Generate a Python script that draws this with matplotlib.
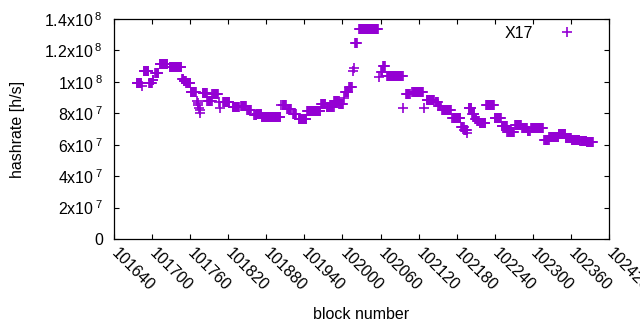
import numpy as np
import matplotlib
matplotlib.use('Agg')
import matplotlib.pyplot as plt

plt.rcParams['font.family'] = ['Liberation Sans', 'DejaVu Sans']
plt.rcParams['mathtext.fontset'] = 'custom'
plt.rcParams['mathtext.rm'] = 'Liberation Sans'
plt.rcParams['mathtext.it'] = 'Liberation Sans'
plt.rcParams['mathtext.default'] = 'regular'

# runs of blocks with the same estimated hashrate (in units of 1e6 h/s)
seg_start = [101676, 101684, 101687, 101695, 101701, 101705, 101712, 101728,
             101747, 101750, 101754, 101761, 101771, 101772, 101773, 101774,
             101775, 101776, 101780, 101787, 101795, 101806, 101807, 101812,
             101827, 101840, 101850, 101861, 101865, 101873, 101903, 101906,
             101913, 101922, 101931, 101944, 101966, 101975, 101987, 101995,
             102002, 102004, 102011, 102017, 102018, 102020, 102026, 102058,
             102061, 102064, 102070, 102096, 102100, 102110, 102128, 102133,
             102147, 102151, 102157, 102173, 102187, 102192, 102197, 102199,
             102204, 102209, 102212, 102216, 102226, 102240, 102251, 102260,
             102272, 102283, 102292, 102297, 102318, 102326, 102341, 102352,
             102361, 102375, 102385]
seg_end = [101683, 101684, 101694, 101700, 101702, 101710, 101724, 101746,
           101749, 101753, 101760, 101769, 101771, 101772, 101773, 101774,
           101775, 101776, 101786, 101794, 101804, 101806, 101807, 101822,
           101837, 101848, 101856, 101864, 101872, 101902, 101903, 101911,
           101919, 101927, 101943, 101965, 101973, 101986, 101994, 102001,
           102002, 102009, 102015, 102017, 102018, 102023, 102056, 102058,
           102063, 102067, 102095, 102096, 102106, 102127, 102128, 102144,
           102150, 102155, 102171, 102186, 102191, 102196, 102197, 102203,
           102208, 102211, 102215, 102225, 102239, 102250, 102259, 102270,
           102281, 102291, 102295, 102316, 102325, 102340, 102351, 102360,
           102373, 102384, 102395]
seg_rate = [99.1, 97.2, 106.7, 99.1, 100.9, 105.6, 111.2, 109.7,
            101.8, 100.5, 99.1, 93.7, 88.0, 86.5, 85.0, 83.5,
            82.0, 80.5, 92.7, 87.6, 92.1, 87.0, 83.6, 86.9,
            84.2, 84.8, 82.1, 78.9, 79.5, 77.4, 85.5, 85.0,
            82.7, 79.5, 76.4, 81.6, 85.6, 83.8, 88.0, 85.9,
            89.7, 93.7, 96.9, 107.2, 108.8, 124.9, 133.4, 103.3,
            106.5, 109.9, 103.5, 83.2, 92.1, 93.5, 83.2, 88.5,
            87.2, 84.8, 82.1, 76.8, 71.0, 69.3, 67.6, 83.2,
            79.5, 76.4, 75.1, 73.8, 85.1, 76.8, 72.0, 68.3,
            72.5, 70.4, 68.8, 70.4, 62.8, 64.9, 66.6, 64.5,
            62.8, 62.4, 61.7]

x_ticks = list(range(101640, 102421, 60))
y_ticks = [0, 2e7, 4e7, 6e7, 8e7, 1e8, 1.2e8, 1.4e8]
y_labels = ['0', '2x10$^{\\;7}$', '4x10$^{\\;7}$', '6x10$^{\\;7}$', '8x10$^{\\;7}$',
            '1x10$^{\\;8}$', '1.2x10$^{\\;8}$', '1.4x10$^{\\;8}$']

# one point per block
blocks = []
rates = []
for s, e, r in zip(seg_start, seg_end, seg_rate):
    for b in range(s, e + 1):
        blocks.append(b)
        rates.append(r * 1e6)

fs = 11.5
fig = plt.figure(figsize=(6.4, 3.3), dpi=100)
ax = fig.add_axes([114 / 640, 1 - 239 / 330, 495 / 640, 220 / 330])

ax.plot(blocks, rates, linestyle='none', marker='+', markersize=6.5,
        markeredgewidth=1.2, color='#9400d3', label='X17')

ax.set_xlim(101640, 102420)
ax.set_ylim(0, 1.4e8)
ax.set_xticks(x_ticks)
ax.set_xticklabels([str(t) for t in x_ticks], rotation=-45, ha='left',
                   va='center', rotation_mode='anchor', fontsize=fs)
ax.set_yticks(y_ticks)
ax.set_yticklabels(y_labels, fontsize=fs)
ax.tick_params(direction='in', length=3.5, width=0.8, top=True, right=True,
               labeltop=False, labelright=False)
ax.tick_params(axis='y', pad=8)
ax.tick_params(axis='x', pad=8.5)
for sp in ax.spines.values():
    sp.set_linewidth(0.9)

ax.set_xlabel('block number', fontsize=fs)
ax.set_ylabel('hashrate [h/s]', fontsize=fs)
ax.xaxis.set_label_coords(0.5, -0.31)
ax.yaxis.set_label_coords(-0.18, 0.5)

ax.legend(loc='upper right', bbox_to_anchor=(0.947, 0.968), markerfirst=False,
          frameon=False, fontsize=fs, handlelength=2.0, handletextpad=1.1,
          borderaxespad=0, borderpad=0)

fig.savefig('out.png', dpi=100)
